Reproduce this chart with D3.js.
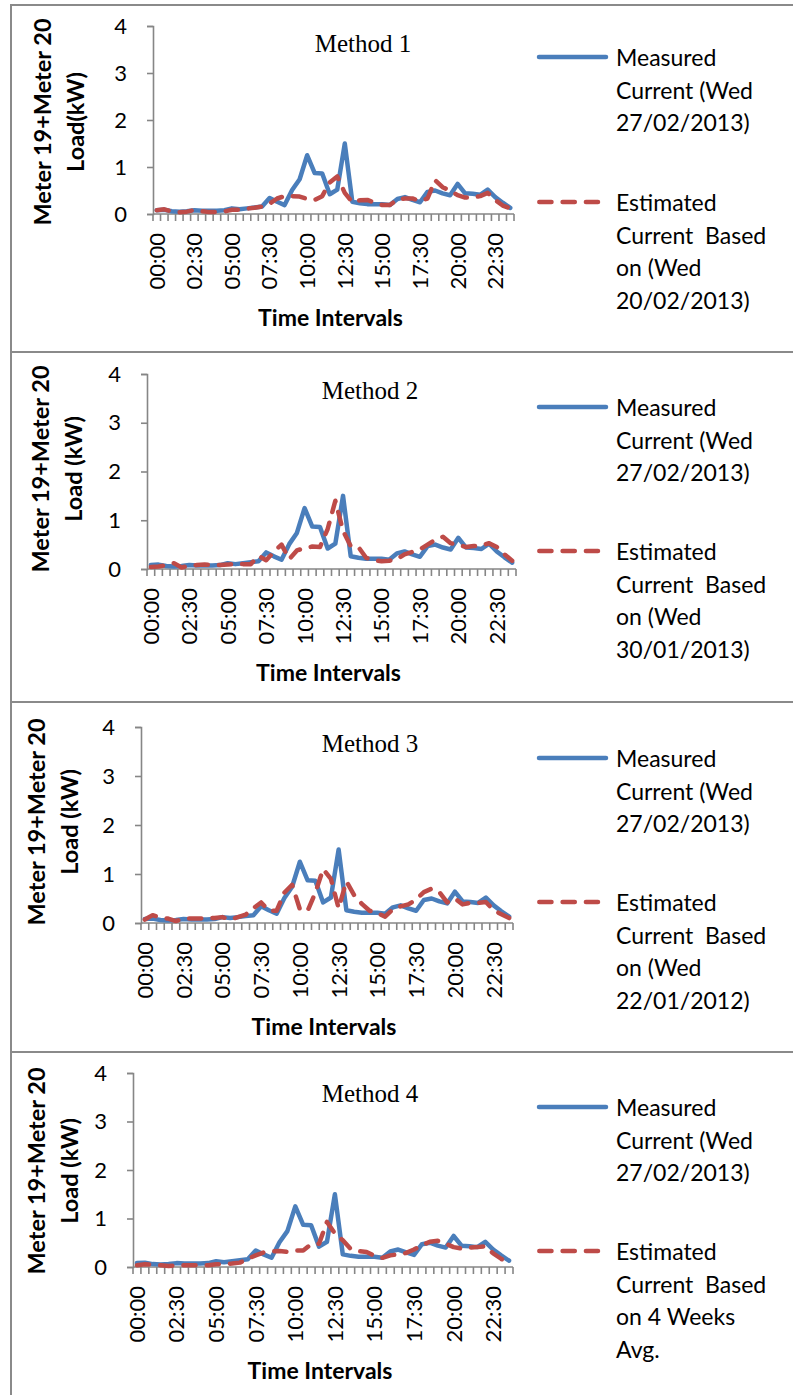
<!DOCTYPE html>
<html>
<head>
<meta charset="utf-8">
<script src="https://cdn.jsdelivr.net/npm/d3@7/dist/d3.min.js"></script>
<style>
  body { margin: 0; background: #fff; }
  svg { display: block; }
  .leg { white-space: pre; }
</style>
</head>
<body>
<svg id="chart" width="793" height="1395"></svg>
<script>
// Half-hourly time slots over one day
const categories = [
  "00:00","00:30","01:00","01:30","02:00","02:30","03:00","03:30","04:00","04:30",
  "05:00","05:30","06:00","06:30","07:00","07:30","08:00","08:30","09:00","09:30",
  "10:00","10:30","11:00","11:30","12:00","12:30","13:00","13:30","14:00","14:30",
  "15:00","15:30","16:00","16:30","17:00","17:30","18:00","18:30","19:00","19:30",
  "20:00","20:30","21:00","21:30","22:00","22:30","23:00","23:30"
];
// Category labels that are printed on the time axis
const shownLabels = ["00:00","02:30","05:00","07:30","10:00","12:30","15:00","17:30","20:00","22:30"];
const yTicks = [0, 1, 2, 3, 4];

// Measured load, Wed 27/02/2013 (kW)
const measured = [
  0.08,0.09,0.06,0.05,0.06,0.08,0.07,0.07,0.07,0.08,
  0.12,0.10,0.12,0.14,0.16,0.34,0.26,0.19,0.51,0.74,
  1.25,0.87,0.86,0.42,0.52,1.50,0.26,0.23,0.21,0.21,
  0.21,0.19,0.32,0.36,0.30,0.25,0.47,0.50,0.44,0.40,
  0.64,0.44,0.43,0.41,0.52,0.36,0.24,0.13
];
// Method 1: based on Wed 20/02/2013
const estimatedM1 = [
  0.08,0.10,0.05,0.035,0.05,0.085,0.06,0.04,0.04,0.055,
  0.09,0.09,0.115,0.135,0.16,0.22,0.33,0.38,0.38,0.37,
  0.32,0.30,0.38,0.67,0.80,0.45,0.25,0.29,0.30,0.24,
  0.19,0.19,0.31,0.33,0.33,0.28,0.33,0.72,0.57,0.50,
  0.40,0.35,0.35,0.38,0.45,0.30,0.18,0.12
];
// Method 2: based on Wed 30/01/2013
const estimatedM2 = [
  0.04,0.05,0.08,0.12,0.03,0.07,0.08,0.09,0.08,0.08,
  0.09,0.11,0.10,0.10,0.27,0.18,0.35,0.50,0.20,0.38,
  0.43,0.46,0.45,0.82,1.40,0.78,0.47,0.45,0.23,0.18,
  0.16,0.17,0.20,0.30,0.35,0.40,0.50,0.60,0.66,0.53,
  0.50,0.45,0.47,0.48,0.53,0.45,0.30,0.17
];
// Method 3: based on Wed 22/01/2012
const estimatedM3 = [
  0.07,0.16,0.11,0.09,0.04,0.09,0.09,0.09,0.10,0.10,
  0.12,0.07,0.12,0.17,0.30,0.42,0.25,0.25,0.62,0.78,
  0.28,0.25,0.62,1.10,0.90,0.30,0.85,0.57,0.39,0.25,
  0.20,0.13,0.28,0.34,0.38,0.48,0.63,0.70,0.63,0.42,
  0.50,0.38,0.41,0.41,0.43,0.26,0.18,0.10
];
// Method 4: four-week average
const estimatedM4 = [
  0.035,0.055,0.045,0.035,0.02,0.035,0.035,0.035,0.04,0.035,
  0.055,0.06,0.07,0.09,0.17,0.24,0.30,0.32,0.33,0.31,
  0.34,0.34,0.47,0.48,0.93,0.69,0.55,0.37,0.33,0.31,
  0.23,0.19,0.24,0.26,0.29,0.36,0.45,0.52,0.54,0.48,
  0.41,0.38,0.40,0.41,0.43,0.28,0.17,0.07
];

const methodTitles = ["Method 1", "Method 2", "Method 3", "Method 4"];
const estimatedSeries = [estimatedM1, estimatedM2, estimatedM3, estimatedM4];
const yTitleLine1 = "Meter 19+Meter 20";
const yTitleLine2 = ["Load(kW)", "Load (kW)", "Load (kW)", "Load (kW)"];
const xTitle = "Time Intervals";
const measuredLegend = ["Measured", "Current (Wed", "27/02/2013)"];
const estimatedLegends = [
  ["Estimated", "Current  Based", "on (Wed", "20/02/2013)"],
  ["Estimated", "Current  Based", "on (Wed", "30/01/2013)"],
  ["Estimated", "Current  Based", "on (Wed", "22/01/2012)"],
  ["Estimated", "Current  Based", "on 4 Weeks", "Avg."]
];

// Geometry of each stacked chart cell
const layout = [
  { top: 5,    x0: 153, x1: 514, yZero: 214,  yTop: 26,   t1x: 43, t2x: 76, tcy: 122,  titleX: 363, titleY: 52,   legA: 57,   legB: 202 },
  { top: 352,  x0: 147, x1: 516, yZero: 569,  yTop: 374,  t1x: 41, t2x: 74, tcy: 469,  titleX: 370, titleY: 399,  legA: 407,  legB: 551 },
  { top: 702,  x0: 141, x1: 513, yZero: 923,  yTop: 727,  t1x: 37, t2x: 70, tcy: 822,  titleX: 370, titleY: 752,  legA: 758,  legB: 902 },
  { top: 1052, x0: 133, x1: 513, yZero: 1267, yTop: 1073, t1x: 37, t2x: 70, tcy: 1171, titleX: 370, titleY: 1102, legA: 1107, legB: 1251 }
];

const blue = "#4A7EBB", red = "#BE4B48", axisGrey = "#868686", borderGrey = "#8a8a8a";
const sans = "Lato, 'Open Sans', sans-serif";
const serif = "'Liberation Serif', 'Times New Roman', serif";

const svg = d3.select("#chart");
svg.append("rect").attr("width", 793).attr("height", 1395).attr("fill", "#fff");

// Table cell borders
const borders = svg.append("g").attr("stroke", borderGrey).attr("stroke-width", 2);
layout.forEach(L => borders.append("line").attr("x1", 11).attr("x2", 793).attr("y1", L.top).attr("y2", L.top));
borders.append("line").attr("x1", 11).attr("x2", 11).attr("y1", layout[0].top - 1).attr("y2", 1395);

layout.forEach((L, p) => {
  const g = svg.append("g");
  const x = d3.scaleBand().domain(categories).range([L.x0, L.x1]);
  const y = d3.scaleLinear().domain([0, 4]).range([L.yZero, L.yTop]);
  const cx = c => x(c) + x.bandwidth() / 2;

  // Value axis
  const yAxis = g.append("g")
    .attr("transform", `translate(${L.x0},0)`)
    .call(d3.axisLeft(y).tickValues(yTicks).tickSize(6).tickPadding(20).tickFormat(d3.format("d")));
  yAxis.select(".domain").attr("stroke", axisGrey).attr("stroke-width", 1.6);
  yAxis.selectAll(".tick line").attr("stroke", axisGrey).attr("stroke-width", 1.6);
  yAxis.selectAll(".tick text").attr("fill", "#000").style("font-family", sans).style("font-size", "22px");

  // Category axis: labels at category centres, tick marks between categories
  const xAxis = g.append("g")
    .attr("transform", `translate(0,${L.yZero})`)
    .call(d3.axisBottom(x).tickSize(0).tickFormat(c => shownLabels.includes(c) ? c : ""));
  xAxis.select(".domain").remove();
  xAxis.selectAll(".tick text")
    .attr("fill", "#000")
    .attr("transform", "rotate(-90)")
    .attr("x", -19).attr("y", 0).attr("dy", "0.36em")
    .style("text-anchor", "end")
    .style("font-family", sans).style("font-size", "22px");

  const edges = categories.map(c => x(c)).concat([x(categories[categories.length - 1]) + x.bandwidth()]);
  g.append("g").selectAll("line").data(edges).join("line")
    .attr("x1", d => d).attr("x2", d => d)
    .attr("y1", L.yZero).attr("y2", L.yZero + 7)
    .attr("stroke", axisGrey).attr("stroke-width", 1.6);
  g.append("line")
    .attr("x1", L.x0).attr("x2", edges[edges.length - 1])
    .attr("y1", L.yZero).attr("y2", L.yZero)
    .attr("stroke", axisGrey).attr("stroke-width", 1.6);

  // Series
  const line = d3.line().x((d, i) => cx(categories[i])).y(d => y(d));
  g.append("path").datum(measured).attr("d", line)
    .attr("fill", "none").attr("stroke", blue).attr("stroke-width", 4.5)
    .attr("stroke-linejoin", "round").attr("stroke-linecap", "round");
  g.append("path").datum(estimatedSeries[p]).attr("d", line)
    .attr("fill", "none").attr("stroke", red).attr("stroke-width", 4.5)
    .attr("stroke-dasharray", "12.2,11.1")
    .attr("stroke-linejoin", "round").attr("stroke-linecap", "round");

  // Chart title
  g.append("text").attr("x", L.titleX).attr("y", L.titleY)
    .attr("text-anchor", "middle")
    .style("font-family", serif).style("font-size", "25px")
    .text(methodTitles[p]);

  // Axis titles
  g.append("text")
    .attr("transform", `translate(${L.t1x},${L.tcy}) rotate(-90)`)
    .attr("text-anchor", "middle").attr("dy", "0.36em")
    .style("font-family", sans).style("font-weight", "bold").style("font-size", "23.5px")
    .text(yTitleLine1);
  g.append("text")
    .attr("transform", `translate(${L.t2x},${L.tcy}) rotate(-90)`)
    .attr("text-anchor", "middle").attr("dy", "0.36em")
    .style("font-family", sans).style("font-weight", "bold").style("font-size", "23.5px")
    .text(yTitleLine2[p]);
  g.append("text")
    .attr("x", (L.x0 + L.x1) / 2 - 3).attr("y", L.yZero + 104).attr("dy", "0.36em")
    .attr("text-anchor", "middle")
    .style("font-family", sans).style("font-weight", "bold").style("font-size", "23px")
    .text(xTitle);

  // Legend
  const lg = g.append("g");
  lg.append("line").attr("x1", 539).attr("x2", 606).attr("y1", L.legA).attr("y2", L.legA)
    .attr("stroke", blue).attr("stroke-width", 4.5).attr("stroke-linecap", "round");
  lg.append("line").attr("x1", 539.3).attr("x2", 598).attr("y1", L.legB).attr("y2", L.legB)
    .attr("stroke", red).attr("stroke-width", 4.5).attr("stroke-linecap", "round")
    .attr("stroke-dasharray", "12.2,11.1");
  measuredLegend.forEach((t, k) => lg.append("text").attr("class", "leg")
    .attr("x", 616).attr("y", L.legA + 9 + k * 32.5)
    .style("font-family", sans).style("font-size", "23px").text(t));
  estimatedLegends[p].forEach((t, k) => lg.append("text").attr("class", "leg")
    .attr("x", 616).attr("y", L.legB + 9 + k * 32.5)
    .style("font-family", sans).style("font-size", "23px").text(t));
});
</script>
</body>
</html>
